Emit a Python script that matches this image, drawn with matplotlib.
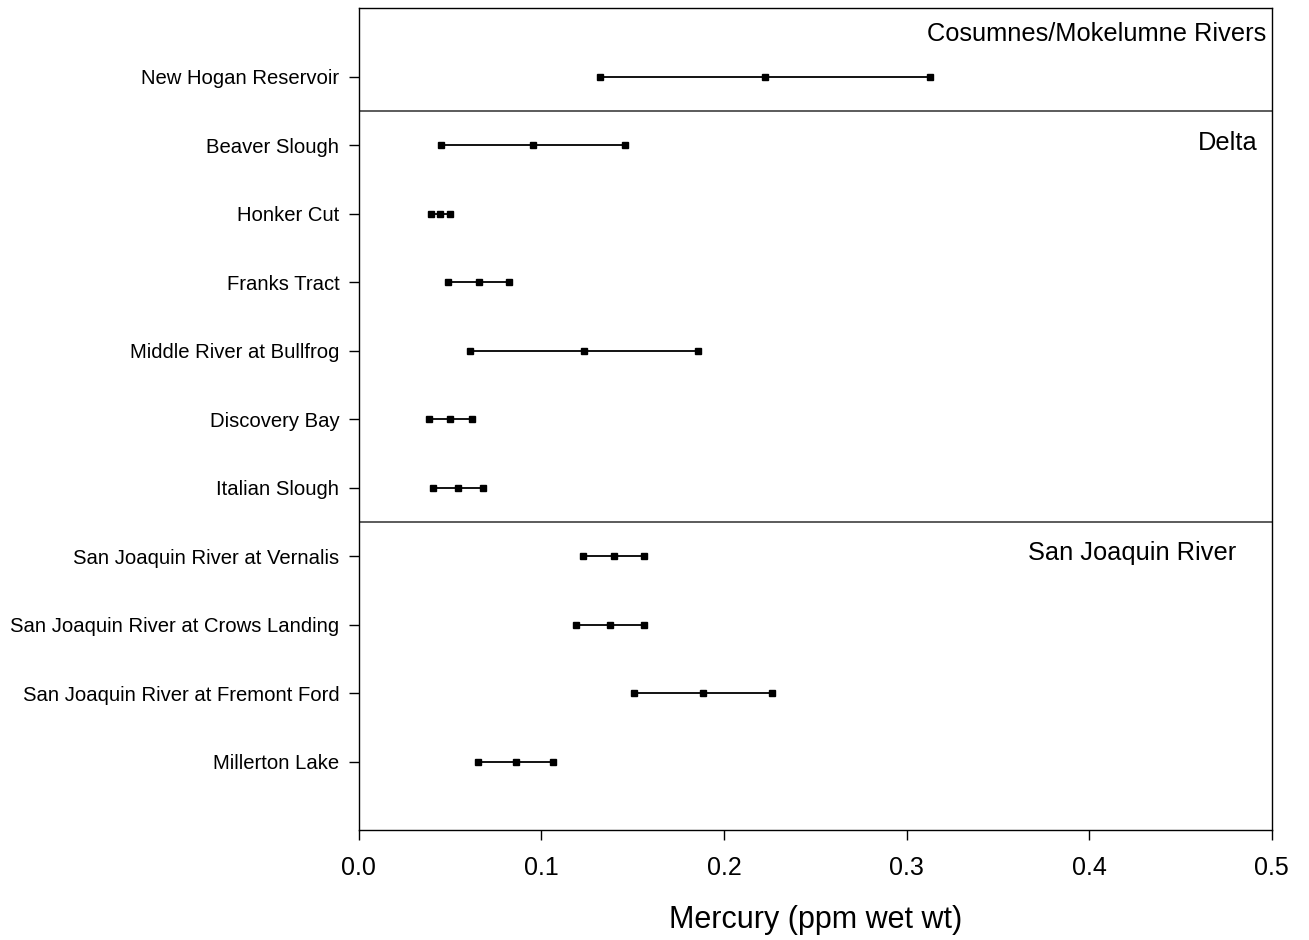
import matplotlib
matplotlib.use("Agg")
import matplotlib.pyplot as plt

plt.rcParams['font.family'] = ['Liberation Sans', 'DejaVu Sans']

sites = ["New Hogan Reservoir", "Beaver Slough", "Honker Cut", "Franks Tract",
         "Middle River at Bullfrog", "Discovery Bay", "Italian Slough",
         "San Joaquin River at Vernalis", "San Joaquin River at Crows Landing",
         "San Joaquin River at Fremont Ford", "Millerton Lake"]
low = [0.132, 0.0452, 0.0394, 0.049, 0.0611, 0.0384, 0.0406, 0.1229, 0.1191, 0.1507, 0.0653]
mean = [0.2225, 0.0954, 0.0447, 0.0657, 0.1233, 0.0501, 0.0543, 0.1396, 0.1377, 0.1883, 0.0859]
high = [0.3128, 0.1456, 0.0498, 0.0823, 0.1856, 0.0618, 0.0679, 0.1562, 0.1564, 0.2261, 0.1064]

groups = ["Cosumnes/Mokelumne Rivers", "Delta", "San Joaquin River"]
group_label_pos = [(0.497, -0.62), (0.492, 0.97), (0.4807, 6.96)]
dividers = [0.5, 6.5]
xticks = [0.0, 0.1, 0.2, 0.3, 0.4, 0.5]

fig = plt.figure(figsize=(13.09, 9.40), dpi=100)
ax = fig.add_axes([0.2741, 0.117, 0.6975, 0.8741])

for i in range(len(sites)):
    ax.plot([low[i], mean[i], high[i]], [i, i, i], color='black', lw=1.3,
            marker='s', markersize=4.5, markerfacecolor='black', markeredgecolor='black')

for d in dividers:
    ax.axhline(d, color='#404040', lw=1.2)

for g, (gx, gy) in zip(groups, group_label_pos):
    ax.text(gx, gy, g, ha='right', va='center', fontsize=18.3)

ax.set_xlim(0, 0.5)
ax.set_ylim(11, -1)
ax.set_yticks(range(len(sites)))
ax.set_yticklabels(sites, fontsize=14.6)
ax.set_xticks(xticks)
ax.set_xticklabels([f"{t:.1f}" for t in xticks], fontsize=18)
ax.tick_params(axis='both', direction='out', length=7, width=1, colors='black')
ax.tick_params(axis='y', pad=7)
ax.tick_params(axis='x', pad=12)
ax.set_xlabel("Mercury (ppm wet wt)", fontsize=22, labelpad=18)
for s in ax.spines.values():
    s.set_linewidth(1.0)

fig.savefig("out.png", dpi=100)
